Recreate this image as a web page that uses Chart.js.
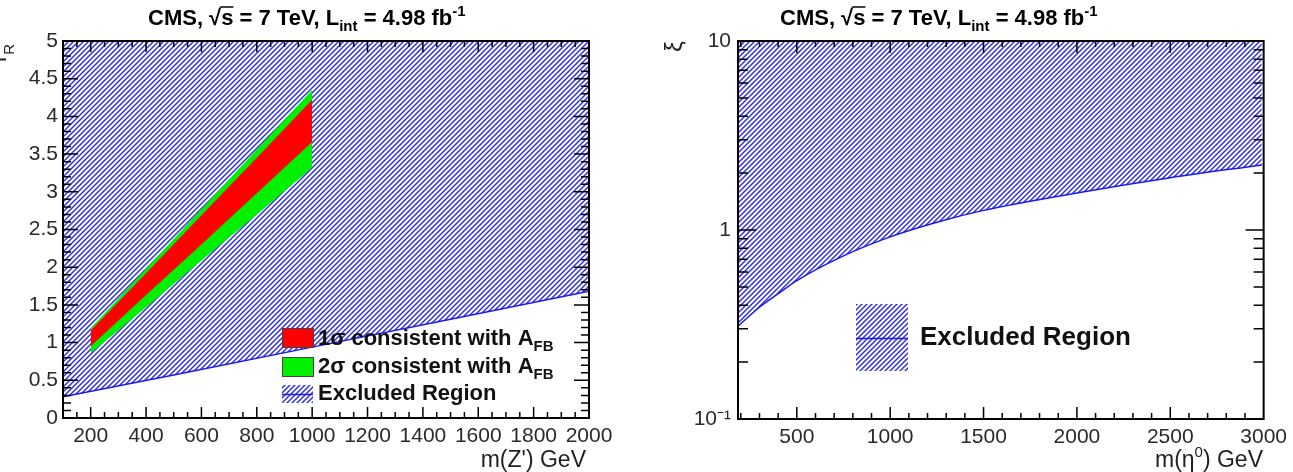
<!DOCTYPE html>
<html lang="en">
<head>
<meta charset="utf-8">
<title>CMS exclusion</title>
<script src="https://cdn.jsdelivr.net/npm/chart.js@4"></script>
<style>
body{margin:0;background:#fff;}
.plot{position:absolute;top:0;height:472px;}
</style>
</head>
<body>
<div class="plot" style="left:0;width:646px"><canvas id="zprime" width="646" height="472"></canvas></div>
<div class="plot" style="left:646px;width:647px"><canvas id="eta" width="647" height="472"></canvas></div>
<script>
// left panel: r_R vs m(Z')
var zMass = [200, 400, 600, 800, 1000];
var sig2Up = [1.19, 1.98, 2.77, 3.56, 4.35];
var sig1Up = [1.16, 1.92, 2.69, 3.45, 4.22];
var sig1Dn = [0.95, 1.63, 2.30, 2.98, 3.66];
var sig2Dn = [0.86, 1.47, 2.09, 2.70, 3.32];
var zExclMass = [100, 500, 1000, 1500, 2000];
var zExclLimit = [0.28, 0.57, 0.94, 1.31, 1.68];
var zTicksX = [200, 400, 600, 800, 1000, 1200, 1400, 1600, 1800, 2000];
var zTicksY = [0, 0.5, 1, 1.5, 2, 2.5, 3, 3.5, 4, 4.5, 5];

// right panel: xi vs m(eta0)
var etaMass = [185, 300, 400, 500, 750, 1000, 1250, 1500, 2000, 2500, 2990];
var etaLimit = [0.31, 0.39, 0.46, 0.54, 0.73, 0.92, 1.10, 1.27, 1.57, 1.89, 2.21];
var etaTicksX = [500, 1000, 1500, 2000, 2500, 3000];
var etaTicksY = [0.1, 1, 10];
var etaLabelsY = ['10\u207B\u00B9', '1', '10'];

var FONT = "'Liberation Sans', Arial, sans-serif";
var BLUE = '#1a1aee';

function xy(xs, ys) {
  return xs.map(function(x, i) { return {x: x, y: ys[i]}; });
}

function hatch(ctx) {
  var c = document.createElement('canvas');
  c.width = 5; c.height = 5;
  var g = c.getContext('2d');
  g.strokeStyle = '#3030e0';
  g.lineWidth = 1.5;
  g.beginPath();
  g.moveTo(-1, 6); g.lineTo(6, -1);
  g.moveTo(-1, 1); g.lineTo(1, -1);
  g.moveTo(4, 6); g.lineTo(6, 4);
  g.stroke();
  return ctx.createPattern(c, 'repeat');
}

// draws pieces of text one after another, returns end x
function rich(ctx, x, y, parts) {
  parts.forEach(function(p) {
    ctx.font = p.f;
    ctx.fillText(p.t, x, y + (p.dy || 0));
    x += ctx.measureText(p.t).width;
  });
  return x;
}
function richWidth(ctx, parts) {
  var w = 0;
  parts.forEach(function(p) { ctx.font = p.f; w += ctx.measureText(p.t).width; });
  return w;
}

function drawTitle(ctx, x) {
  var b = 'bold 22px ' + FONT, s = 'bold 15px ' + FONT;
  ctx.fillStyle = '#000';
  ctx.textBaseline = 'alphabetic';
  ctx.textAlign = 'left';
  x = rich(ctx, x, 25, [{t: 'CMS, ', f: b}, {t: '\u221A', f: b}]);
  var x0 = x;
  x = rich(ctx, x, 25, [{t: 's', f: b}]);
  ctx.strokeStyle = '#000';
  ctx.lineWidth = 1.5;
  ctx.beginPath();
  ctx.moveTo(x0 - 1, 7); ctx.lineTo(x, 7);
  ctx.stroke();
  rich(ctx, x, 25, [
    {t: ' = 7 TeV, L', f: b},
    {t: 'int', f: s, dy: 6},
    {t: ' = 4.98 fb', f: b},
    {t: '-1', f: s, dy: -9}
  ]);
}

// inward ticks on all four sides plus the frame
var rootFrame = {
  id: 'rootFrame',
  afterDatasetsDraw: function(chart, args, o) {
    var ctx = chart.ctx, a = chart.chartArea;
    var xs = chart.scales.x, ys = chart.scales.y;
    ctx.save();
    ctx.strokeStyle = '#000';
    ctx.lineWidth = 1.5;
    ctx.beginPath();
    function xt(v, len) {
      var p = xs.getPixelForValue(v);
      if (p < a.left + 1 || p > a.right - 1) return;
      ctx.moveTo(p, a.bottom); ctx.lineTo(p, a.bottom - len);
      ctx.moveTo(p, a.top); ctx.lineTo(p, a.top + len);
    }
    function yt(v, len) {
      var p = ys.getPixelForValue(v);
      if (p < a.top + 1 || p > a.bottom - 1) return;
      ctx.moveTo(a.left, p); ctx.lineTo(a.left + len, p);
      ctx.moveTo(a.right, p); ctx.lineTo(a.right - len, p);
    }
    xs.ticks.forEach(function(t) { xt(t.value, o.xMajor); });
    o.xMinorVals.forEach(function(v) { xt(v, o.xMinor); });
    ys.ticks.forEach(function(t) { yt(t.value, o.yMajor); });
    o.yMinorVals.forEach(function(v) { yt(v, o.yMinor); });
    ctx.stroke();
    ctx.lineWidth = 2;
    ctx.strokeRect(a.left, a.top, a.width, a.height);
    ctx.restore();
  }
};

function frameScaleX(min, max, ticks, h) {
  return {
    type: 'linear', min: min, max: max,
    grid: {display: false, drawTicks: false},
    border: {display: false},
    ticks: {font: {family: FONT, size: 21}, color: '#2a2a2a', padding: 6, maxRotation: 0,
      callback: function(v) { return String(v); }},
    afterBuildTicks: function(s) { s.ticks = ticks.map(function(v) { return {value: v}; }); },
    afterFit: function(s) { s.height = h; }
  };
}

// ---------- left chart ----------
var zctx = document.getElementById('zprime').getContext('2d');
var zHatch = hatch(zctx);
var xMinorZ = [], yMinorZ = [];
for (var m = 100; m <= 2000; m += 50) xMinorZ.push(m);
for (var r = 0; r <= 50; r++) yMinorZ.push(r / 10);

new Chart(zctx, {
  type: 'line',
  data: {
    datasets: [
      {data: xy(zMass, sig1Up), fill: '+1', backgroundColor: '#ff0000', borderColor: 'rgba(0,0,0,0)', borderWidth: 0, pointRadius: 0},
      {data: xy(zMass, sig1Dn), fill: false, borderColor: 'rgba(0,0,0,0)', borderWidth: 0, pointRadius: 0},
      {data: xy(zMass, sig2Up), fill: '+1', backgroundColor: '#00f000', borderColor: 'rgba(0,0,0,0)', borderWidth: 0, pointRadius: 0},
      {data: xy(zMass, sig2Dn), fill: false, borderColor: 'rgba(0,0,0,0)', borderWidth: 0, pointRadius: 0},
      {data: xy(zExclMass, zExclLimit), fill: 'end', backgroundColor: zHatch, borderColor: BLUE, borderWidth: 1.5, pointRadius: 0}
    ]
  },
  options: {
    responsive: false,
    animation: false,
    layout: {padding: {top: 41, right: 57, left: 0, bottom: 0}},
    plugins: {
      legend: {display: false},
      tooltip: {enabled: false},
      rootFrame: {xMajor: 11, xMinor: 6, yMajor: 15, yMinor: 8, xMinorVals: xMinorZ, yMinorVals: yMinorZ}
    },
    scales: {
      x: frameScaleX(100, 2000, zTicksX, 54),
      y: {
        type: 'linear', min: 0, max: 5,
        grid: {display: false, drawTicks: false},
        border: {display: false},
        ticks: {font: {family: FONT, size: 21}, color: '#2a2a2a', padding: 5,
          callback: function(v) { return String(v); }},
        afterBuildTicks: function(s) { s.ticks = zTicksY.map(function(v) { return {value: v}; }); },
        afterFit: function(s) { s.width = 63; }
      }
    }
  },
  plugins: [rootFrame, {
    id: 'zText',
    afterDraw: function(chart) {
      var ctx = chart.ctx;
      ctx.save();
      drawTitle(ctx, 148);
      // axis titles
      ctx.fillStyle = '#222';
      var xt = [{t: "m(Z') GeV", f: '23px ' + FONT}];
      rich(ctx, 586 - richWidth(ctx, xt), 467, xt);
      ctx.save();
      ctx.translate(6, 62);
      ctx.rotate(-Math.PI / 2);
      rich(ctx, 0, 0, [{t: 'r', f: '22px ' + FONT}, {t: 'R', f: '15px ' + FONT, dy: 8}]);
      ctx.restore();
      // legend
      var lb = 'bold 22px ' + FONT, ls = 'bold 15px ' + FONT;
      ctx.lineWidth = 1;
      ctx.strokeStyle = '#444';
      ctx.fillStyle = '#ff0000';
      ctx.fillRect(282, 328, 31, 19); ctx.strokeRect(282.5, 328.5, 31, 19);
      ctx.fillStyle = '#00f000';
      ctx.fillRect(282, 357, 31, 19); ctx.strokeRect(282.5, 357.5, 31, 19);
      ctx.fillStyle = zHatch;
      ctx.fillRect(282, 385, 31, 18);
      ctx.strokeStyle = BLUE;
      ctx.lineWidth = 1.5;
      ctx.beginPath(); ctx.moveTo(282, 394.5); ctx.lineTo(313, 394.5); ctx.stroke();
      ctx.fillStyle = '#111';
      rich(ctx, 318, 345, [{t: '1\u03C3 consistent with A', f: lb}, {t: 'FB', f: ls, dy: 6}]);
      rich(ctx, 318, 373, [{t: '2\u03C3 consistent with A', f: lb}, {t: 'FB', f: ls, dy: 6}]);
      rich(ctx, 318, 400, [{t: 'Excluded Region', f: lb}]);
      ctx.restore();
    }
  }]
});

// ---------- right chart ----------
var ectx = document.getElementById('eta').getContext('2d');
var eHatch = hatch(ectx);
var xMinorE = [], yMinorE = [];
for (var m2 = 200; m2 <= 3000; m2 += 100) xMinorE.push(m2);
[0.1, 1].forEach(function(d) { for (var k = 2; k <= 9; k++) yMinorE.push(d * k); });

new Chart(ectx, {
  type: 'line',
  data: {
    datasets: [
      {data: xy(etaMass, etaLimit), fill: 'end', backgroundColor: eHatch, borderColor: BLUE, borderWidth: 1.5,
        pointRadius: 0, cubicInterpolationMode: 'monotone'}
    ]
  },
  options: {
    responsive: false,
    animation: false,
    layout: {padding: {top: 41, right: 29, left: 0, bottom: 0}},
    plugins: {
      legend: {display: false},
      tooltip: {enabled: false},
      rootFrame: {xMajor: 12, xMinor: 6, yMajor: 18, yMinor: 10, xMinorVals: xMinorE, yMinorVals: yMinorE}
    },
    scales: {
      x: frameScaleX(185, 3000, etaTicksX, 53),
      y: {
        type: 'logarithmic', min: 0.1, max: 10,
        grid: {display: false, drawTicks: false},
        border: {display: false},
        ticks: {font: {family: FONT, size: 21}, color: '#2a2a2a', padding: 7,
          callback: function(v) { var i = etaTicksY.indexOf(v); return i >= 0 ? etaLabelsY[i] : ''; }},
        afterBuildTicks: function(s) { s.ticks = etaTicksY.map(function(v) { return {value: v}; }); },
        afterFit: function(s) { s.width = 92; }
      }
    }
  },
  plugins: [rootFrame, {
    id: 'etaText',
    afterDraw: function(chart) {
      var ctx = chart.ctx;
      ctx.save();
      drawTitle(ctx, 134);
      ctx.fillStyle = '#222';
      var xt = [{t: 'm(\u03B7', f: '23px ' + FONT}, {t: '0', f: '15px ' + FONT, dy: -10}, {t: ') GeV', f: '23px ' + FONT}];
      rich(ctx, 617 - richWidth(ctx, xt), 467, xt);
      ctx.save();
      ctx.translate(36, 52);
      ctx.rotate(-Math.PI / 2);
      rich(ctx, 0, 0, [{t: '\u03BE', f: '24px ' + FONT}]);
      ctx.restore();
      // legend
      ctx.fillStyle = eHatch;
      ctx.fillRect(210, 304, 52, 67);
      ctx.strokeStyle = BLUE;
      ctx.lineWidth = 1.5;
      ctx.beginPath(); ctx.moveTo(210, 338.5); ctx.lineTo(262, 338.5); ctx.stroke();
      ctx.fillStyle = '#111';
      rich(ctx, 274, 345, [{t: 'Excluded Region', f: 'bold 26px ' + FONT}]);
      ctx.restore();
    }
  }]
});
</script>
</body>
</html>
